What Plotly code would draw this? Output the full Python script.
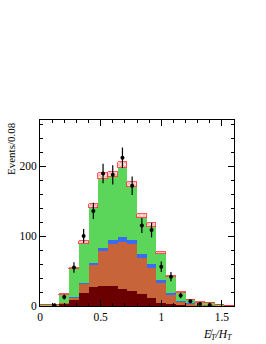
import plotly.graph_objects as go

# bin centres (bin width 0.08)
centers = [0.04, 0.12, 0.20, 0.28, 0.36, 0.44, 0.52, 0.60, 0.68, 0.76,
           0.84, 0.92, 1.00, 1.08, 1.16, 1.24, 1.32, 1.40, 1.48, 1.56]
bin_width = 0.08

# stacked components (bottom to top)
maroon = [0.5, 0.8, 4, 9, 18, 27, 29, 28, 25, 21, 17, 11, 4, 3, 2, 1, 0.5, 0.3, 0.2, 0]
orange = [0, 0.2, 1, 3, 14, 33, 49.6, 60.6, 66, 67, 52, 43.7, 29, 14, 4.7, 2.8, 1.5, 0.7, 0.3, 0]
blue = [0, 0, 0, 0.3, 1, 1.5, 4, 5.5, 7, 7, 6, 5.3, 4, 2, 0.5, 0.2, 0.2, 0, 0, 0]
green = [0.3, 0.5, 10.5, 40.7, 55, 78, 98.4, 89.9, 99.6, 74.5, 51, 53, 38, 22, 11.8, 4.6, 2.6, 3, 1, 0.5]
unc = [0, 0, 1.5, 2, 5, 6.5, 8.5, 7, 8, 7.5, 6, 6, 2.6, 1.5, 1, 0.7, 0.4, 0.3, 0, 0]

# data
data_y = [None, 1, 13, 55, 100, 136, 189.5, 187.6, 212, 172, 115, 108.6, 56, 42, 15, 6.7, 3, 1.5, None, None]
data_err = [0, 1, 3.6, 7.4, 10, 11.7, 13.8, 13.7, 14.6, 13.1, 10.7, 10.4, 7.5, 6.5, 3.9, 2.6, 1.7, 1.2, 0, 0]

x_ticks = [0, 0.5, 1, 1.5]
x_ticklabels = ["0", "0.5", "1", "1.5"]
y_ticks = [0, 100, 200]
y_ticklabels = ["0", "100", "200"]

font_family = "Liberation Serif"

fig = go.Figure()
for vals, col in [(maroon, "#6a0000"), (orange, "#c8643a"), (blue, "#3a6cf0"), (green, "#5bd65b")]:
    fig.add_trace(go.Bar(x=centers, y=vals, width=bin_width,
                         marker=dict(color=col, line=dict(width=0)),
                         showlegend=False, hoverinfo="skip"))

fig.add_trace(go.Bar(x=centers, y=unc, width=bin_width,
                     marker=dict(color="#ffdcdc",
                                 line=dict(color="#ff3030", width=0.8),
                                 pattern=dict(shape="x", fgcolor="#ff4a4a", bgcolor="#fff0f0",
                                              size=3, solidity=0.5)),
                     showlegend=False, hoverinfo="skip"))

fig.add_trace(go.Scatter(x=centers, y=data_y, mode="markers",
                         marker=dict(color="black", size=4),
                         error_y=dict(type="data", array=data_err, visible=True,
                                      color="black", thickness=1.2, width=0),
                         showlegend=False, hoverinfo="skip"))

axis_common = dict(showline=True, linecolor="black", linewidth=1, mirror="ticks",
                   ticks="inside", tickcolor="black", tickwidth=1, ticklen=6,
                   showgrid=False, zeroline=False,
                   tickfont=dict(family=font_family, size=11.5, color="black"))

fig.update_xaxes(range=[0, 1.6], tickmode="array", tickvals=x_ticks, ticktext=x_ticklabels,
                 minor=dict(ticks="inside", dtick=0.1, tick0=0, ticklen=3, tickcolor="black", showgrid=False),
                 **axis_common)
fig.update_yaxes(range=[0, 266], tickmode="array", tickvals=y_ticks, ticktext=y_ticklabels,
                 minor=dict(ticks="inside", dtick=20, tick0=0, ticklen=3, tickcolor="black", showgrid=False),
                 **axis_common)

fig.add_annotation(xref="paper", yref="paper", x=1.0, y=-0.155, xanchor="right", yanchor="middle",
                   text="<i>E\u0338<sub>T</sub>/H<sub>T</sub></i>", showarrow=False,
                   font=dict(family=font_family, size=11.5, color="black"))
fig.add_annotation(xref="paper", yref="paper", x=-0.152, y=1.0, xanchor="center", yanchor="top",
                   text="Events/0.08", textangle=-90, showarrow=False,
                   font=dict(family=font_family, size=11, color="black"))

fig.update_layout(width=266, height=344, barmode="stack", bargap=0,
                  margin=dict(l=39.5, r=32, t=119.5, b=38),
                  paper_bgcolor="white", plot_bgcolor="white")

fig.write_html("out.html", config={"displayModeBar": False},
               post_script="document.body.style.margin='0';document.body.style.overflow='hidden';")
